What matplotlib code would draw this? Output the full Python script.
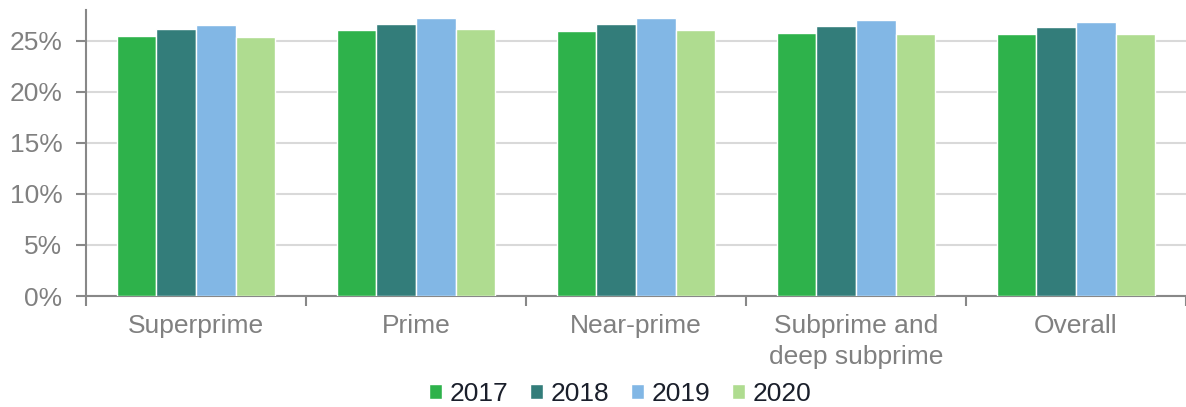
import matplotlib
matplotlib.use("Agg")
import matplotlib.pyplot as plt
import numpy as np
from matplotlib.ticker import FuncFormatter

categories = ["Superprime", "Prime", "Near-prime", "Subprime and\ndeep subprime", "Overall"]
years = ["2017", "2018", "2019", "2020"]
values_2017 = [25.5, 26.0, 25.9, 25.75, 25.65]
values_2018 = [26.1, 26.6, 26.6, 26.4, 26.3]
values_2019 = [26.5, 27.2, 27.2, 27.0, 26.8]
values_2020 = [25.4, 26.1, 26.0, 25.7, 25.65]
series = [values_2017, values_2018, values_2019, values_2020]
colors = ["#2eb24b", "#337d7a", "#82b7e5", "#afdc90"]

plt.rcParams["font.family"] = ["Liberation Sans", "DejaVu Sans"]

fig = plt.figure(figsize=(11.86, 4.07), dpi=100)
ax = fig.add_axes([0.0725, 0.2727, 0.9275, 0.7027])

x = np.arange(len(categories))
width = 0.18
for i, (vals, yr) in enumerate(zip(series, years)):
    ax.bar(x + (i - 1.5) * width, vals, width, color=colors[i], edgecolor="white",
           linewidth=1, label=yr, zorder=3)

ax.set_xlim(-0.5, 4.47)
ax.set_ylim(0, 28)
ax.set_yticks([0, 5, 10, 15, 20, 25])
ax.yaxis.set_major_formatter(FuncFormatter(lambda v, p: "%d%%" % v))
ax.grid(axis="y", color="#d9d9d9", linewidth=1.5, zorder=0)

ax.set_xticks(x)
ax.set_xticklabels(categories, linespacing=1.35)
ax.set_xticks(np.arange(-0.5, 4.6, 1), minor=True)
ax.tick_params(axis="x", which="major", length=0, pad=13, labelsize=19, labelcolor="#808080")
ax.tick_params(axis="x", which="minor", length=7, width=1.5, color="#888888")
ax.tick_params(axis="y", length=7, width=1.5, color="#888888", pad=10,
               labelsize=19, labelcolor="#808080")

for s in ["top", "right"]:
    ax.spines[s].set_visible(False)
for s in ["left", "bottom"]:
    ax.spines[s].set_color("#888888")
    ax.spines[s].set_linewidth(1.5)

leg = fig.legend(loc="lower center", bbox_to_anchor=(0.523, -0.055), ncol=4, frameon=False,
                 fontsize=19, handlelength=0.5, handleheight=0.5, handletextpad=0.3,
                 columnspacing=0.8, labelcolor="#1a1f2b")

fig.savefig("out.png", dpi=100)
